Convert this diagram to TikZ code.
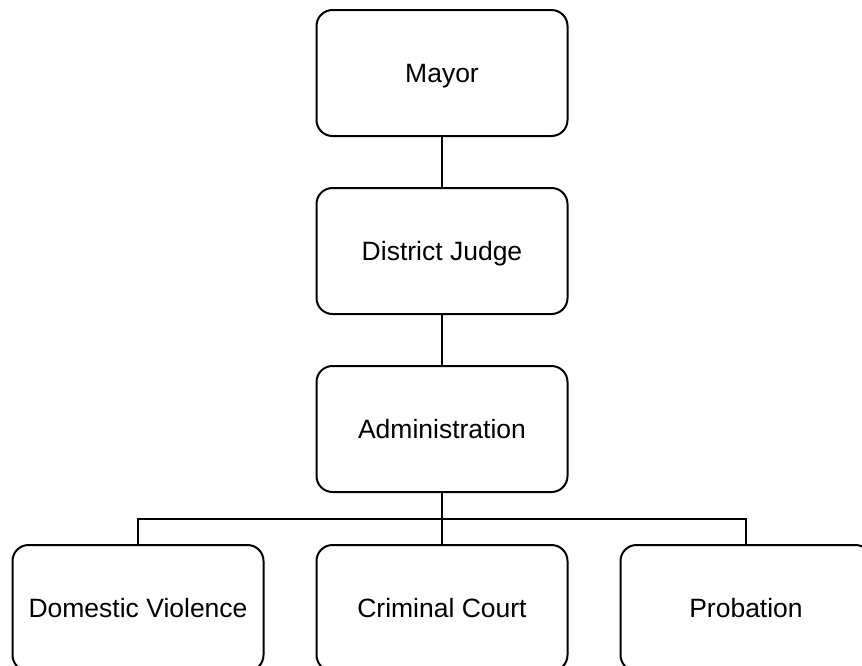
\documentclass[tikz,border=0pt]{standalone}
\usepackage{fontspec}
\setmainfont{Liberation Sans}
\begin{document}
\begin{tikzpicture}[x=1pt,y=-1pt,
  unitbox/.style={draw=black, line width=2pt, rounded corners=16pt,
    minimum width=251pt, minimum height=126pt, inner sep=0pt,
    font=\fontsize{26.5}{30}\selectfont, text height=19pt, text depth=0pt},
  link/.style={draw=black, line width=2pt}]
\useasboundingbox (0,0) rectangle (862,665);
% chain of command
\node[unitbox] (mayor) at (442,73)  {Mayor};
\node[unitbox] (judge) at (442,251) {District Judge};
\node[unitbox] (admin) at (442,429) {Administration};
% divisions
\node[unitbox] (dv)   at (138,608) {Domestic Violence};
\node[unitbox] (cc)   at (442,608) {Criminal Court};
\node[unitbox] (prob) at (746,608) {Probation};
\coordinate (bus) at (442,519);
% connectors
\draw[link] (mayor.south) -- (judge.north);
\draw[link] (judge.south) -- (admin.north);
\draw[link] (admin.south) -- (bus);
\draw[link] (dv.north) |- (bus) -| (prob.north);
\draw[link] (bus) -- (cc.north);
\end{tikzpicture}
\end{document}
